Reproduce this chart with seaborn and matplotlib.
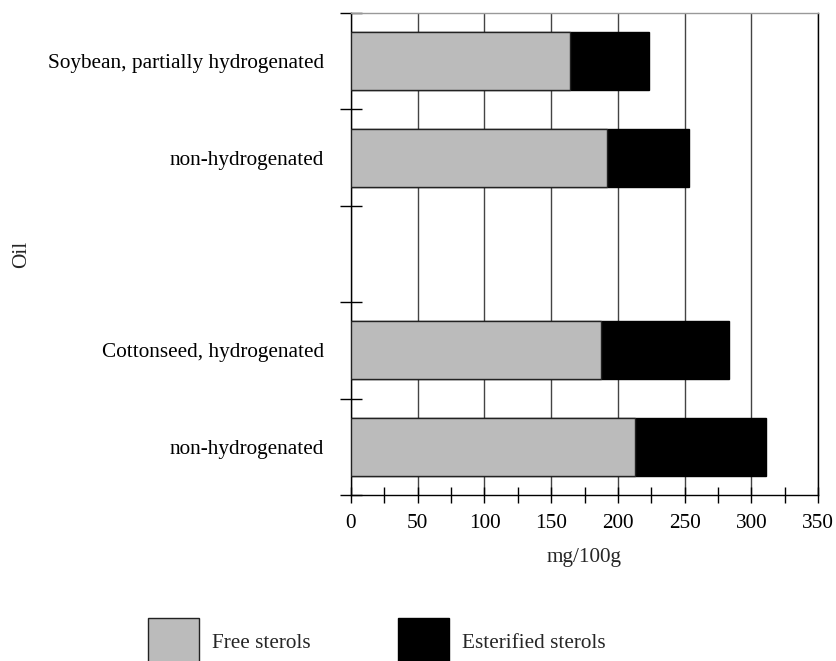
import matplotlib
matplotlib.use("Agg")
import matplotlib.pyplot as plt
from matplotlib.patches import Patch
from matplotlib.ticker import MultipleLocator
import pandas as pd
import seaborn as sns

# Sterol content of oils (mg/100g)
keys = ["soy_ph", "soy_nh", "cot_h", "cot_nh"]
oil_labels = ["Soybean, partially hydrogenated", "non-hydrogenated",
              "Cottonseed, hydrogenated", "non-hydrogenated"]
free_sterols = [164, 192, 187, 213]
esterified_sterols = [59, 61, 96.5, 98]

# row order on the axis, with a blank row separating the two oils
slot_order = ["soy_ph", "soy_nh", "gap", "cot_h", "cot_nh"]
label_for = dict(zip(keys, oil_labels))
label_for["gap"] = ""

df = pd.DataFrame({"oil": keys, "free": free_sterols,
                   "esterified": esterified_sterols})
df["total"] = df["free"] + df["esterified"]

sns.set_style("white")
plt.rcParams["font.family"] = ["Liberation Serif", "DejaVu Serif"]
FONT = 15.3
plt.rcParams["font.size"] = FONT

FS = FONT * 100 / 72  # font size in pixels

fig = plt.figure(figsize=(8.36, 6.61), dpi=100)
ax = fig.add_axes([351 / 836, 1 - 495 / 661, 467 / 836, 482 / 661])

grey = "#bbbbbb"
# stacked bars: total in black, free sterols drawn on top in grey
sns.barplot(data=df, y="oil", x="total", order=slot_order, color="black",
            edgecolor="black", linewidth=1, width=0.6, saturation=1, ax=ax,
            zorder=2)
sns.barplot(data=df, y="oil", x="free", order=slot_order, color=grey,
            edgecolor="#222222", linewidth=1, width=0.6, saturation=1, ax=ax,
            zorder=3)

ax.set_xlim(0, 350)
ax.set_ylim(4.5, -0.5)

# x axis
ax.xaxis.set_major_locator(MultipleLocator(50))
ax.xaxis.set_minor_locator(MultipleLocator(25))
ax.tick_params(axis="x", which="both", direction="inout", length=11,
               width=1, color="black", pad=8.5, labelsize=FONT,
               labelcolor="black", bottom=True)
ax.grid(axis="x", which="major", color="#444444", linewidth=1)
ax.grid(axis="y", visible=False)
ax.set_axisbelow(True)
ax.set_xlabel("mg/100g", fontsize=FONT, labelpad=10.5)

# y axis: tick marks between rows, labels centred on rows
ax.set_yticks([i - 0.5 for i in range(len(slot_order) + 1)])
ax.set_yticklabels([""] * (len(slot_order) + 1))
ax.set_yticks(range(len(slot_order)), minor=True)
ax.set_yticklabels([label_for[k] for k in slot_order], minor=True)
ax.tick_params(axis="y", which="major", direction="inout", length=16,
               width=1, color="black", left=True)
ax.tick_params(axis="y", which="minor", length=0, pad=19.5, labelsize=FONT,
               labelcolor="black", left=True)
ax.set_ylabel("Oil", fontsize=FONT)
ax.yaxis.set_label_coords(-0.686, 0.5)

for side in ["left", "bottom", "right"]:
    ax.spines[side].set_visible(True)
    ax.spines[side].set_color("black")
    ax.spines[side].set_linewidth(1)
ax.spines["top"].set_visible(True)
ax.spines["top"].set_color("#999999")
ax.spines["top"].set_linewidth(1)

handles = [Patch(facecolor=grey, edgecolor="#222222", linewidth=1),
           Patch(facecolor="black", edgecolor="black", linewidth=1)]
fig.legend(handles=handles, labels=["Free sterols", "Esterified sterols"],
           loc="upper left", bbox_to_anchor=(148 / 836, 1 - 618 / 661),
           ncol=2, frameon=False, borderpad=0, borderaxespad=0,
           handlelength=51 / FS, handleheight=3.0,
           handletextpad=13 / FS, columnspacing=87 / FS, fontsize=FONT)

fig.savefig("out.png", dpi=100)
